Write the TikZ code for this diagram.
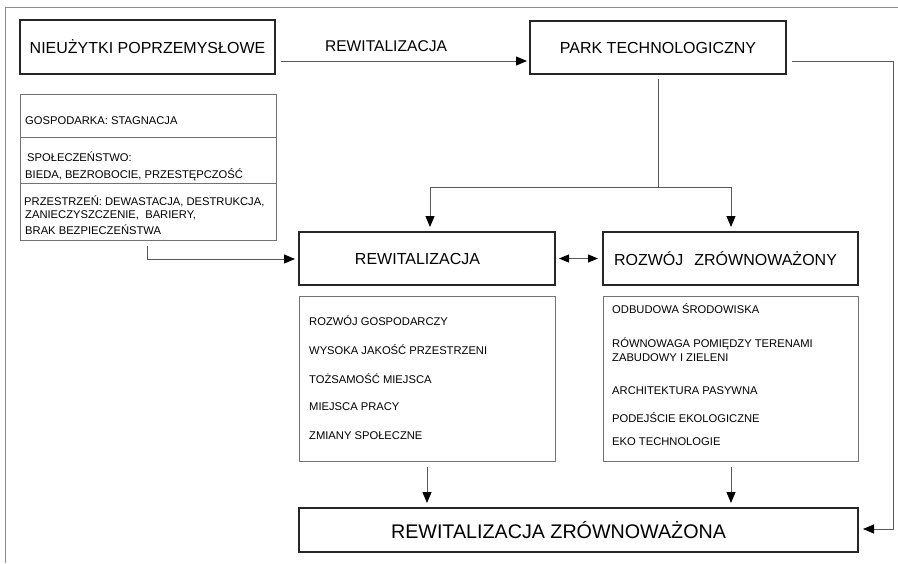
\documentclass[tikz,border=0pt]{standalone}
\usepackage{fontspec}
\setmainfont{Liberation Sans}
\usetikzlibrary{arrows.meta,calc}
\begin{document}
\begin{tikzpicture}[x=1pt,y=-1pt,
  thickbox/.style={draw=black!85,line width=2pt,inner sep=0pt,outer sep=0pt},
  thinbox/.style={draw=black!55,line width=0.9pt,inner sep=0pt,outer sep=0pt},
  conn/.style={draw=black!65,line width=0.9pt},
  tipend/.style={-{Triangle[length=11pt,width=9pt,color=black]}},
  bigtext/.style={font=\fontsize{16}{18}\selectfont,inner sep=0pt},
  hugetext/.style={font=\fontsize{19.7}{22}\selectfont,inner sep=0pt},
  smalltext/.style={font=\fontsize{11.2}{13}\selectfont,anchor=west,inner sep=0pt},
]
\useasboundingbox (0,0) rectangle (898,563);
\fill[white] (0,0) rectangle (898,563);
% frame
\draw[black!45,line width=1pt] (898,7) -- (5,7) -- (5,563);

% top row
\node[thickbox,minimum width=255pt,minimum height=54pt,bigtext] (nieuz) at (147.5,47) {NIEUŻYTKI POPRZEMYSŁOWE};
\node[thickbox,minimum width=256pt,minimum height=53pt,bigtext] (park) at (658,47.5) {PARK TECHNOLOGICZNY};
\node[font=\fontsize{15.6}{18}\selectfont,inner sep=0pt] (revlab) at (386,46) {REWITALIZACJA};

% info box
\node[thinbox,minimum width=256pt,minimum height=146pt] (info) at (148,167) {};
\draw[black!55,line width=0.9pt] (info.west |- 0,137) coordinate (d1l) -- (info.east |- 0,137) coordinate (d1r);
\draw[black!55,line width=0.9pt] (info.west |- 0,183) coordinate (d2l) -- (info.east |- 0,183) coordinate (d2r);
\node[smalltext] (i1) at (25,121) {GOSPODARKA: STAGNACJA};
\node[smalltext] (i2) at (27,157) {SPOŁECZEŃSTWO:};
\node[smalltext] (i3) at (25,175) {BIEDA, BEZROBOCIE, PRZESTĘPCZOŚĆ};
\node[smalltext] (i4) at (24,201) {PRZESTRZEŃ: DEWASTACJA, DESTRUKCJA,};
\node[smalltext] (i5) at (25,215.5) {ZANIECZYSZCZENIE,\ \ BARIERY,};
\node[smalltext] (i6) at (25,230) {BRAK BEZPIECZEŃSTWA};

% middle row
\node[thickbox,minimum width=256pt,minimum height=53pt] (rew) at (427,258.5) {};
\node[bigtext] (rewt) at (417.5,258.5) {REWITALIZACJA};
\node[thickbox,minimum width=255pt,minimum height=53pt] (roz) at (730.5,258.5) {};
\node[bigtext] (rozt) at (725.5,258.5) {ROZWÓJ\hspace{11pt}ZRÓWNOWAŻONY};

% list boxes
\node[thinbox,minimum width=256pt,minimum height=165pt] (rewl) at (427,378.5) {};
\node[smalltext] (r1) at (309,321) {ROZWÓJ GOSPODARCZY};
\node[smalltext] (r2) at (309,350) {WYSOKA JAKOŚĆ PRZESTRZENI};
\node[smalltext] (r3) at (309,379) {TOŻSAMOŚĆ MIEJSCA};
\node[smalltext] (r4) at (309,407) {MIEJSCA PRACY};
\node[smalltext] (r5) at (309,435.5) {ZMIANY SPOŁECZNE};

\node[thinbox,minimum width=255pt,minimum height=165pt] (rozl) at (730.5,378.5) {};
\node[smalltext] (z1) at (612,309) {ODBUDOWA ŚRODOWISKA};
\node[smalltext] (z2) at (612,344) {RÓWNOWAGA POMIĘDZY TERENAMI};
\node[smalltext] (z3) at (612,357.5) {ZABUDOWY I ZIELENI};
\node[smalltext] (z4) at (612,391) {ARCHITEKTURA PASYWNA};
\node[smalltext] (z5) at (612,418) {PODEJŚCIE EKOLOGICZNE};
\node[smalltext] (z6) at (612,442) {EKO TECHNOLOGIE};

% bottom box
\node[thickbox,minimum width=559pt,minimum height=44pt] (fin) at (578.5,530) {};
\node[hugetext] (fint) at (558.5,530.5) {REWITALIZACJA ZRÓWNOWAŻONA};

% connectors
\draw[conn,tipend] ($(nieuz.east)+(6,14)$) -- ($(park.west)+(-3,13.5)$);

\coordinate (pr1) at (893,61);
\coordinate (pr2) at (893,529);
\draw[conn,tipend] ($(park.east)+(6,13.5)$) -- (pr1) -- (pr2) -- ($(fin.east |- pr2)+(5,0)$);

\coordinate (split) at (658,187);
\coordinate (sl) at (430,187);
\coordinate (sr) at (731,187);
\draw[conn] ($(park.south)+(0,5)$) -- (split);
\draw[conn,tipend] (split) -- (sl) -- ($(sl |- rew.north)+(0,-5)$);
\draw[conn,tipend] (split) -- (sr) -- ($(sr |- roz.north)+(0,-5)$);

\draw[conn,{Triangle[length=10pt,width=8pt,color=black]}-{Triangle[length=10pt,width=8pt,color=black]}] ($(rew.east)+(4,0)$) -- ($(roz.west)+(-5,0)$);

\coordinate (ib) at (147,246);
\draw[conn,tipend] (ib) -- (147,259) -- ($(rew.west)+(-4,0.5)$);

\coordinate (da) at (427,467);
\coordinate (db) at (731,467);
\draw[conn,tipend] (da) -- ($(da |- fin.north)+(0,-5)$);
\draw[conn,tipend] (db) -- ($(db |- fin.north)+(0,-5)$);
\end{tikzpicture}
\end{document}
